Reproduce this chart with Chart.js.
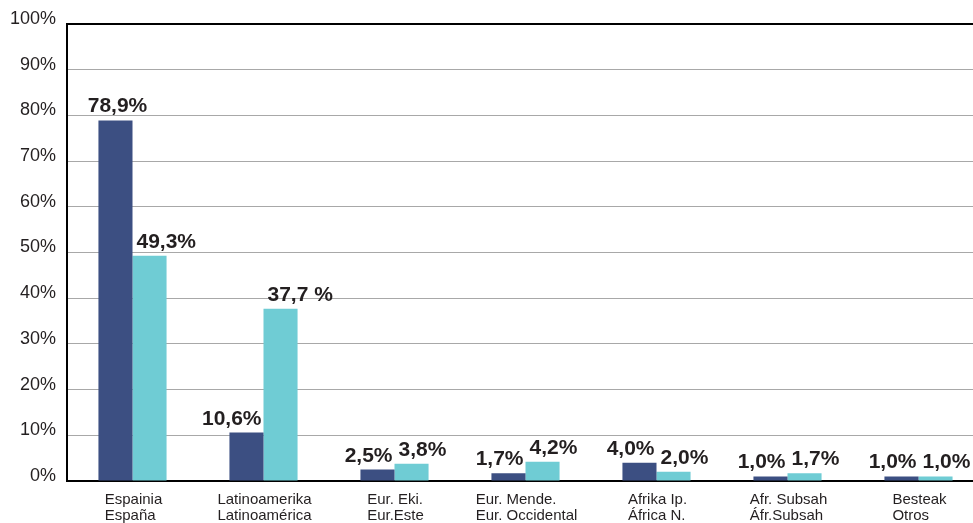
<!DOCTYPE html>
<html>
<head>
<meta charset="utf-8">
<script src="https://cdn.jsdelivr.net/npm/chart.js@4/dist/chart.umd.min.js"></script>
<style>
  html, body { margin: 0; padding: 0; overflow: hidden; background: #fff; }
  #wrap { width: 990px; height: 523px; }
</style>
</head>
<body>
<div id="wrap"><canvas id="cv" width="990" height="523"></canvas></div>
<script>
// categorias (euskara / castellano)
const zonaEus = ["Espainia", "Latinoamerika", "Eur. Eki.", "Eur. Mende.", "Afrika Ip.", "Afr. Subsah", "Besteak"];
const zonaEsp = ["España", "Latinoamérica", "Eur.Este", "Eur. Occidental", "África N.", "Áfr.Subsah", "Otros"];

// valores (%)
const serie1 = [78.9, 10.6, 2.5, 1.7, 4.0, 1.0, 1.0];
const serie2 = [49.3, 37.7, 3.8, 4.2, 2.0, 1.7, 1.0];

// textos de las etiquetas
const texto1 = ["78,9%", "10,6%", "2,5%", "1,7%", "4,0%", "1,0%", "1,0%"];
const texto2 = ["49,3%", "37,7 %", "3,8%", "4,2%", "2,0%", "1,7%", "1,0%"];

// eje y
const ejeMax = 100;
const ejePaso = 10;

const FONT = "'Liberation Sans', Arial, sans-serif";

// etiquetas de valor y etiquetas de categoria
const etiquetas = {
  id: "etiquetas",
  afterDatasetsDraw(chart) {
    const ctx = chart.ctx;
    ctx.save();
    ctx.fillStyle = "#231f20";
    ctx.font = "bold 21px " + FONT;
    ctx.textBaseline = "alphabetic";
    chart.getDatasetMeta(0).data.forEach((bar, i) => {
      if (i === 0) {
        ctx.textAlign = "center";
        ctx.fillText(texto1[i], bar.x + 2, bar.y - 8);
      } else {
        ctx.textAlign = "right";
        ctx.fillText(texto1[i], bar.x + bar.width / 2 - 2, bar.y - 8);
      }
    });
    chart.getDatasetMeta(1).data.forEach((bar, i) => {
      ctx.textAlign = "left";
      ctx.fillText(texto2[i], bar.x - bar.width / 2 + 4, bar.y - 8);
    });

    // categorias: bloque centrado, lineas alineadas a la izquierda
    const xs = chart.scales.x;
    ctx.font = "15px " + FONT;
    ctx.textAlign = "left";
    ctx.textBaseline = "top";
    zonaEus.forEach((l1, i) => {
      const l2 = zonaEsp[i];
      const w = Math.max(ctx.measureText(l1).width, ctx.measureText(l2).width);
      const x0 = xs.getPixelForValue(i) - w / 2 + 1;
      ctx.fillText(l1, x0, 492);
      ctx.fillText(l2, x0, 508);
    });
    ctx.restore();
  }
};

new Chart(document.getElementById("cv").getContext("2d"), {
  type: "bar",
  data: {
    labels: zonaEus,
    datasets: [
      { data: serie1, backgroundColor: "#3c4f82", categoryPercentage: 0.52, barPercentage: 1 },
      { data: serie2, backgroundColor: "#6fccd4", categoryPercentage: 0.52, barPercentage: 1 }
    ]
  },
  options: {
    responsive: false,
    animation: false,
    layout: { padding: { top: 24, right: 6, left: 0, bottom: 0 } },
    plugins: { legend: { display: false }, tooltip: { enabled: false } },
    scales: {
      x: {
        ticks: { display: false },
        grid: { display: false },
        border: { color: "#000", width: 2 },
        afterFit(s) { s.height = 42; }
      },
      y: {
        min: 0,
        max: ejeMax,
        ticks: {
          stepSize: ejePaso,
          padding: 11,
          labelOffset: -5,
          color: "#231f20",
          font: { family: FONT, size: 18 },
          callback: (v) => v + "%"
        },
        grid: {
          drawTicks: false,
          color: (c) => (c.tick && c.tick.value === ejeMax ? "#000" : "#a8a8a8"),
          lineWidth: (c) => (c.tick && c.tick.value === ejeMax ? 2 : 1)
        },
        border: { color: "#000", width: 2 },
        afterFit(s) { s.width = 67; }
      }
    }
  },
  plugins: [etiquetas]
});
</script>
</body>
</html>
